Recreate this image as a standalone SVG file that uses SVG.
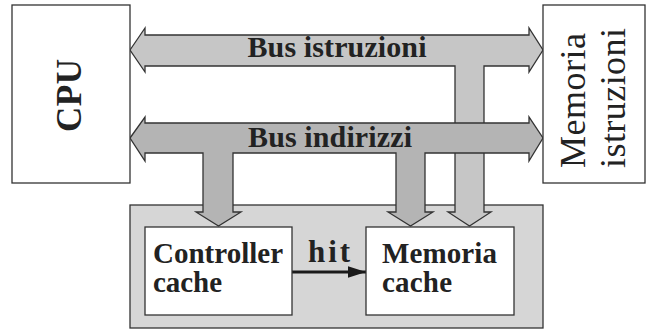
<svg xmlns="http://www.w3.org/2000/svg" width="647" height="330" viewBox="0 0 647 330">
  <style>
    .box { fill: #ffffff; stroke: #333333; stroke-width: 1.3; }
    .outer { fill: #d6d6d6; stroke: #333333; stroke-width: 1.3; }
    .busA { fill: #c6c6c6; stroke: #333333; stroke-width: 1.3; stroke-linejoin: miter; }
    .busB { fill: #b4b4b4; stroke: #333333; stroke-width: 1.3; stroke-linejoin: miter; }
    .lbl { font-family: "Liberation Serif", "DejaVu Serif", serif; font-weight: bold; fill: #222222; }
    .big { font-family: "Liberation Serif", "DejaVu Serif", serif; fill: #222222; }
    .hit { stroke: #1a1a1a; stroke-width: 3; fill: none; }
  </style>
  <defs>
    <marker id="head" viewBox="0 0 10 10" refX="10" refY="5" markerWidth="6" markerHeight="3.8" markerUnits="strokeWidth" orient="auto" preserveAspectRatio="none">
      <path d="M0,0 L10,5 L0,10 Z" fill="#1a1a1a"/>
    </marker>
  </defs>

  <!-- cache subsystem frame -->
  <g id="cache">
    <rect class="outer" x="130" y="205" width="413" height="123"/>
  </g>

  <!-- buses -->
  <g id="connectors">
    <!-- instruction bus with branch to the cache memory -->
    <polygon class="busA" points="130,50 145,28 145,35 529,35 529,28 543,50 529,72 529,66 484,66 484,212 491,212 469.5,226 448,212 455,212 455,66 145,66 145,72"/>
    <!-- address bus with branches to controller and cache memory -->
    <polygon class="busB" points="130,138 145,117 145,123 529,123 529,117 543,138 529,161 529,153 425,153 425,212 433,212 410.5,226 388,212 396,212 396,153 233,153 233,212 241,212 218.5,226 196,212 203,212 203,153 145,153 145,161"/>
    <text class="lbl" x="337" y="57" font-size="30" text-anchor="middle" textLength="179">Bus istruzioni</text>
    <text class="lbl" x="330" y="147" font-size="30" text-anchor="middle" textLength="164">Bus indirizzi</text>
    <!-- hit signal -->
    <line class="hit" x1="292" y1="272" x2="366" y2="272" marker-end="url(#head)"/>
    <text class="lbl" x="329" y="262" font-size="31" text-anchor="middle" textLength="42">hit</text>
  </g>

  <g id="cpu">
    <rect class="box" x="12" y="5" width="118" height="178"/>
    <text class="lbl" transform="translate(81,95.5) rotate(-90)" font-size="35" text-anchor="middle" textLength="73">CPU</text>
  </g>

  <g id="memoria-istruzioni">
    <rect class="box" x="543" y="5" width="102" height="178"/>
    <text class="big" transform="translate(585,100.5) rotate(-90)" font-size="36" text-anchor="middle" textLength="135">Memoria</text>
    <text class="big" transform="translate(625,98) rotate(-90)" font-size="36" text-anchor="middle" textLength="140">istruzioni</text>
  </g>

  <g id="controller-cache">
    <rect class="box" x="145" y="227" width="147" height="88"/>
    <text class="lbl" x="153" y="263" font-size="29" textLength="130">Controller</text>
    <text class="lbl" x="153" y="292" font-size="29" textLength="69">cache</text>
  </g>

  <g id="memoria-cache">
    <rect class="box" x="366" y="227" width="148" height="88"/>
    <text class="lbl" x="382" y="263" font-size="29" textLength="115">Memoria</text>
    <text class="lbl" x="382" y="292" font-size="29" textLength="70">cache</text>
  </g>
</svg>
